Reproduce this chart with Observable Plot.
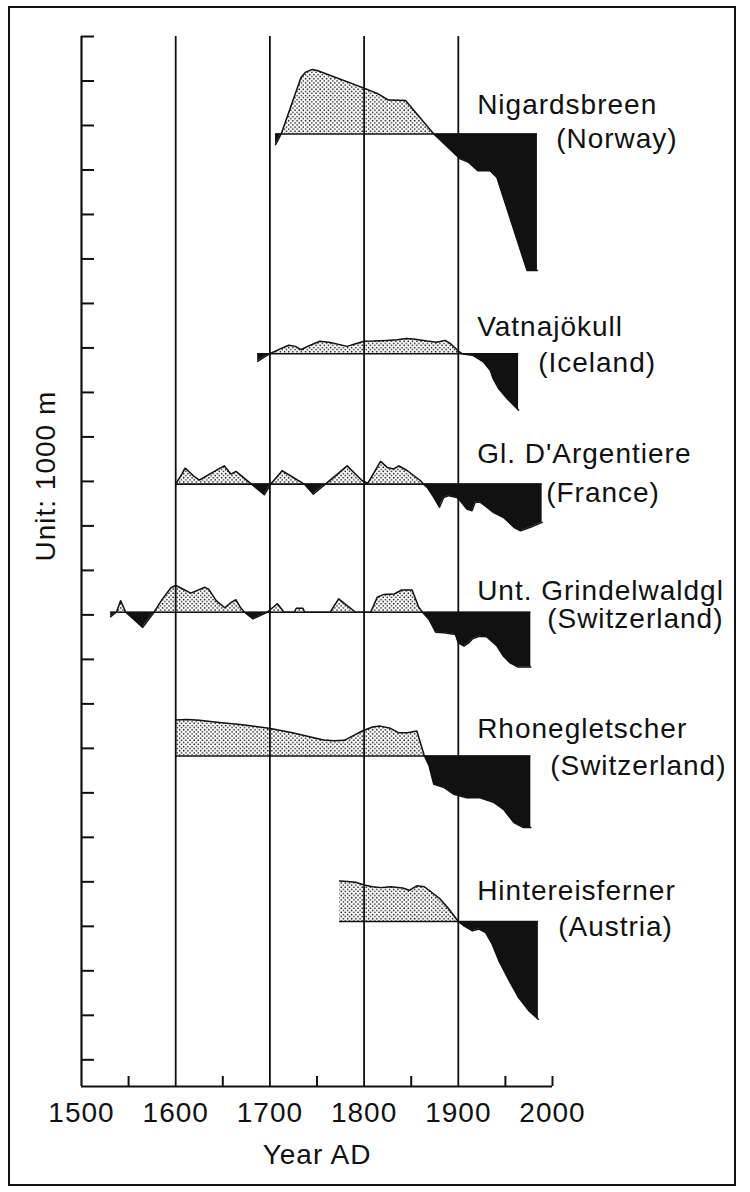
<!DOCTYPE html>
<html>
<head>
<meta charset="utf-8">
<script src="https://cdn.jsdelivr.net/npm/d3@7"></script>
<script src="https://cdn.jsdelivr.net/npm/@observablehq/plot@0.6"></script>
<style>
  html, body { margin: 0; padding: 0; background: #fff; }
  #wrap { position: relative; width: 750px; height: 1192px; overflow: hidden; }
  #chart svg { display: block; }
  #border { position: absolute; left: 8px; top: 6px; width: 728px; height: 1180px;
            border: 2px solid #111; box-sizing: border-box; pointer-events: none; }
</style>
</head>
<body>
<div id="wrap"><div id="chart"></div><div id="border"></div></div>
<script>
// ---- data: glacier length change (km, relative to reference level), [year, value]
const glaciers = ["Nigardsbreen", "Vatnajökull", "Gl. D'Argentiere", "Unt. Grindelwaldgl", "Rhonegletscher", "Hintereisferner"];
const countries = ["(Norway)", "(Iceland)", "(France)", "(Switzerland)", "(Switzerland)", "(Austria)"];
// reference (zero) level of each record, in axis units (1 unit = 1000 m)
const baselines = [20.81, 15.87, 12.94, 10.06, 6.83, 3.11];

const nigardsbreen = [[1706,-0.24],[1712,0],[1733,1.27],[1738,1.39],[1745,1.45],[1751,1.42],[1800,1.03],[1814,0.91],[1826,0.76],[1844,0.75],[1874,0],[1902,-0.56],[1911,-0.64],[1921,-0.83],[1934,-0.83],[1941,-0.98],[1973,-3.07],[1984,-3.07]];
const vatnajokull = [[1687,-0.17],[1700,0],[1711,0.11],[1720,0.19],[1727,0.165],[1733,0.09],[1740,0.165],[1753,0.28],[1764,0.25],[1773,0.21],[1782,0.165],[1791,0.225],[1800,0.28],[1810,0.285],[1824,0.30],[1835,0.315],[1845,0.34],[1852,0.33],[1867,0.285],[1877,0.26],[1886,0.30],[1891,0.24],[1900,0.06],[1904,0],[1916,-0.04],[1927,-0.19],[1934,-0.375],[1937,-0.56],[1943,-0.79],[1952,-1.01],[1964,-1.27]];
const argentiere = [[1600,0],[1606.5,0.225],[1610,0.36],[1618.5,0.19],[1625,0.09],[1636,0.225],[1651.5,0.41],[1658.5,0.225],[1664,0.285],[1680.5,0],[1694,-0.24],[1701,0],[1713,0.30],[1736.5,0],[1746,-0.225],[1759,0],[1782,0.41],[1798,0.075],[1804,0.02],[1817.5,0.51],[1824.5,0.375],[1831.5,0.34],[1837,0.41],[1846,0.30],[1860,0.075],[1863,0],[1867,-0.075],[1874,-0.30],[1880,-0.52],[1884.5,-0.30],[1890,-0.26],[1898.5,-0.30],[1902,-0.375],[1909,-0.56],[1914.5,-0.6],[1918,-0.41],[1923.5,-0.41],[1928.5,-0.49],[1937.5,-0.64],[1948,-0.75],[1959,-0.97],[1966,-1.05],[1976.5,-0.97],[1989,-0.86]];
const grindelwald = [[1531,-0.1],[1537,0],[1541.5,0.26],[1547,0],[1565,-0.34],[1577,0],[1586,0.30],[1595,0.55],[1600,0.60],[1605,0.55],[1616,0.43],[1623,0.49],[1631,0.56],[1635,0.52],[1643,0.26],[1652,0.10],[1659,0.22],[1664,0.28],[1669,0.10],[1673,0],[1682,-0.15],[1697,0],[1708,0.19],[1715,0],[1726,0],[1728,0.09],[1735,0.09],[1737,0],[1764,0],[1773,0.30],[1782,0.15],[1791,0],[1807,0],[1814,0.34],[1821,0.40],[1832,0.41],[1840,0.50],[1851,0.50],[1858,0.11],[1862,0],[1869,-0.165],[1876,-0.45],[1885,-0.46],[1897,-0.50],[1900,-0.69],[1906,-0.76],[1911,-0.69],[1915,-0.60],[1922,-0.54],[1930,-0.55],[1941,-0.76],[1948,-0.99],[1955,-1.14],[1963,-1.23],[1977,-1.23]];
const rhone = [[1600,0.81],[1612,0.82],[1625,0.80],[1646,0.75],[1671,0.70],[1699,0.62],[1724,0.52],[1742,0.43],[1757,0.36],[1768,0.34],[1779,0.35],[1788,0.45],[1798,0.56],[1809,0.65],[1817,0.67],[1828,0.62],[1837,0.52],[1846,0.52],[1856,0.56],[1864,0],[1869,-0.22],[1874,-0.64],[1885,-0.71],[1895,-0.86],[1909,-0.94],[1923,-0.94],[1938,-1.05],[1948,-1.2],[1959,-1.5],[1969,-1.61],[1977,-1.61]];
const hintereis = [[1774,0.91],[1782,0.90],[1791,0.88],[1800,0.82],[1809,0.78],[1818,0.76],[1828,0.78],[1841,0.75],[1848,0.70],[1856,0.80],[1864,0.78],[1872,0.65],[1881,0.50],[1890,0.28],[1900,0],[1906,-0.10],[1915,-0.21],[1922,-0.17],[1929,-0.25],[1936,-0.51],[1943,-0.88],[1954,-1.33],[1964,-1.71],[1975,-2.01],[1985,-2.20]];

const series = [nigardsbreen, vatnajokull, argentiere, grindelwald, rhone, hintereis];

// axis tick values
const yearLabels = [1500, 1600, 1700, 1800, 1900, 2000];
const gridYears = [1600, 1700, 1800, 1900];
const shortTickYears = [1550, 1650, 1750, 1850, 1950, 2000];
const yTicks = d3.range(0, 24);
const xLabel = "Year AD";
const yLabel = "Unit: 1000 m";

// ---- derived tables
const rows = series.flatMap((s, i) => s.map(([year, v]) => ({g: glaciers[i], year, v, base: baselines[i]})));
const spans = series.map((s, i) => ({g: glaciers[i], base: baselines[i], start: s[0][0], end: s[s.length - 1][0]}));
const labels = glaciers.map((g, i) => ({name: g, country: countries[i], base: baselines[i]}));

// ---- layout / style
const W = 750, H = 1192;
const mL = 81, mR = 198, mT = 36, mB = 106;
const plotW = W - mL - mR, plotH = H - mT - mB;
const yMin = -0.6, yMax = 23;
const ink = "#111";
const labelYear = 1920;
const nameOffset = [20, 18, 21, 12, 18, 21];   // px above reference line
const countryOffset = [14, 18, 18, 16, 19, 15]; // px below reference line
const countryIndent = [79, 61, 69, 70, 73, 81]; // px

const labelMarks = labels.flatMap((l, i) => [
  Plot.text([l], {x: () => labelYear, y: "base", text: "name", textAnchor: "start", lineAnchor: "bottom", dy: -nameOffset[i], fill: ink}),
  Plot.text([l], {x: () => labelYear, y: "base", text: "country", textAnchor: "start", lineAnchor: "bottom", dy: countryOffset[i], dx: countryIndent[i], fill: ink})
]);

const svg = Plot.plot({
  width: W, height: H,
  marginLeft: mL, marginRight: mR, marginTop: mT, marginBottom: mB,
  x: {domain: [1500, 2000]},
  y: {domain: [yMin, yMax], axis: null},
  style: {fontFamily: "'Liberation Sans', Arial, Helvetica, sans-serif", fontSize: "28px", letterSpacing: "1px", color: ink, background: "#fff"},
  marks: [
    Plot.areaY(rows, {x: "year", y1: "base", y2: d => d.base + Math.max(0, d.v), z: "g", fill: "url(#dots)"}),
    Plot.areaY(rows, {x: "year", y1: "base", y2: d => d.base + Math.min(0, d.v), z: "g", fill: ink}),
    Plot.ruleX(gridYears, {stroke: ink, strokeWidth: 1.8}),
    Plot.line(rows, {x: "year", y: d => d.base + d.v, z: "g", stroke: ink, strokeWidth: 1.5}),
    Plot.ruleY(spans, {y: "base", x1: "start", x2: "end", stroke: ink, strokeWidth: 1.6}),
    Plot.ruleX([1500], {stroke: ink, strokeWidth: 2.2}),
    Plot.ruleY([yMin], {stroke: ink, strokeWidth: 2.2}),
    Plot.tickY(yTicks, {y: d => d, insetRight: plotW - 13, stroke: ink, strokeWidth: 2}),
    Plot.tickX(shortTickYears, {x: d => d, insetTop: plotH - 10, stroke: ink, strokeWidth: 2}),
    Plot.axisX({ticks: yearLabels, tickSize: 0, tickPadding: 16, tickFormat: d => String(d), fill: ink}),
    Plot.text([xLabel], {frameAnchor: "bottom", text: d => d, lineAnchor: "bottom", dy: 77, fill: ink}),
    Plot.text([yLabel], {frameAnchor: "left", text: d => d, rotate: -90, lineAnchor: "middle", dx: -35, fill: ink}),
    ...labelMarks
  ]
});

const defs = d3.select(svg).insert("defs", ":first-child");
const pat = defs.append("pattern").attr("id", "dots").attr("patternUnits", "userSpaceOnUse")
  .attr("width", 4.2).attr("height", 4.2);
pat.append("rect").attr("width", 4.2).attr("height", 4.2).attr("fill", "#fff");
pat.append("circle").attr("cx", 1).attr("cy", 1).attr("r", 0.8).attr("fill", ink);
pat.append("circle").attr("cx", 3.1).attr("cy", 3.1).attr("r", 0.8).attr("fill", ink);

document.getElementById("chart").appendChild(svg);
</script>
</body>
</html>
